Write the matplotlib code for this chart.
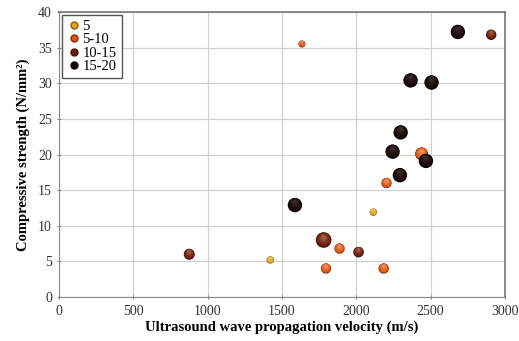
import numpy as np
import matplotlib
matplotlib.use('Agg')
import matplotlib.pyplot as plt
import matplotlib.colors as mcolors
from matplotlib.transforms import offset_copy
from matplotlib.lines import Line2D

# groups: velocity (m/s), strength (N/mm2), bubble radius (px)
vel_5 = [1421, 2114]
str_5 = [5.2, 11.9]
rad_5 = [3.7, 3.7]

vel_5_10 = [1634, 1796, 1887, 2184, 2203, 2439]
str_5_10 = [35.5, 4.0, 6.8, 4.0, 16.0, 20.1]
rad_5_10 = [3.5, 5.2, 5.2, 5.2, 5.2, 6.5]

vel_10_15 = [876, 1780, 2015, 2907]
str_10_15 = [6.0, 8.0, 6.3, 36.8]
rad_10_15 = [5.5, 7.8, 5.3, 5.2]

vel_15_20 = [1587, 2244, 2298, 2293, 2365, 2506, 2683, 2468]
str_15_20 = [12.9, 20.4, 23.1, 17.1, 30.4, 30.1, 37.2, 19.1]
rad_15_20 = [7.2, 7.2, 7.2, 7.2, 7.2, 7.2, 7.2, 7.2]

labels = ['5', '5-10', '10-15', '15-20']
colors = ['#E3A11A', '#E0520E', '#6E1A06', '#140604']
glow = [0.45, 0.45, 0.35, 0.18]

plt.rcParams['font.family'] = ['Liberation Serif', 'DejaVu Serif']

fig = plt.figure(figsize=(5.19, 3.41), dpi=100)
ax = fig.add_axes([59/519, 1-297/341, (505-59)/519, (297-12)/341])


def shade(c, t):
    r, g, b = mcolors.to_rgb(c)
    return (r + (1-r)*t, g + (1-g)*t, b + (1-b)*t)


def bubbles(xs, ys, rads, color, light, z):
    steps = 8
    for k in range(steps):
        f = 1 - k/steps*0.85
        sizes = [(1.44*r*f)**2 for r in rads]
        if k == 0:
            col = tuple(v*0.55 for v in mcolors.to_rgb(color))
        else:
            col = shade(color, light*(k/steps)**1.5)
        tr = offset_copy(ax.transData, fig=fig, x=0, y=(1-f)*np.mean(rads)*0.45, units='points')
        ax.scatter(xs, ys, s=sizes, color=col, linewidths=0, zorder=z+k*0.01, transform=tr)


bubbles(vel_5, str_5, rad_5, colors[0], glow[0], 3)
bubbles(vel_5_10, str_5_10, rad_5_10, colors[1], glow[1], 4)
bubbles(vel_10_15, str_10_15, rad_10_15, colors[2], glow[2], 5)
bubbles(vel_15_20, str_15_20, rad_15_20, colors[3], glow[3], 6)

ax.set_xlim(0, 3000)
ax.set_ylim(0, 40)
ax.set_xticks(range(0, 3001, 500))
ax.set_yticks(range(0, 41, 5))
ax.grid(True, color='#d0d0d0', linewidth=0.9)
ax.set_axisbelow(True)
for s in ['left', 'bottom']:
    ax.spines[s].set_color('#888888')
for s in ['top', 'right']:
    ax.spines[s].set_color('#777777')
    ax.spines[s].set_linewidth(1.2)
ax.tick_params(axis='both', labelsize=10, length=3, color='#888888', direction='inout',
               labelcolor='#333333')
ax.tick_params(axis='x', pad=4)

ax.set_xlabel('Ultrasound wave propagation velocity (m/s)', fontsize=10.5, fontweight='bold', labelpad=2)
ax.set_ylabel('Compressive strength (N/mm²)', fontsize=10.5, fontweight='bold', labelpad=6)

handles = [Line2D([], [], marker='o', linestyle='', markersize=5, markerfacecolor=c,
                  markeredgecolor=tuple(v*0.6 for v in mcolors.to_rgb(c))) for c in colors]
leg = ax.legend(handles, labels, loc='upper left', fontsize=10.5, frameon=True, fancybox=False,
                handlelength=0.9, handletextpad=0.15, labelspacing=0.0, borderpad=0.35,
                borderaxespad=0.2, framealpha=1)
leg.get_frame().set_edgecolor('#555555')
leg.get_frame().set_linewidth(1.0)

fig.savefig('out.png', dpi=100)
